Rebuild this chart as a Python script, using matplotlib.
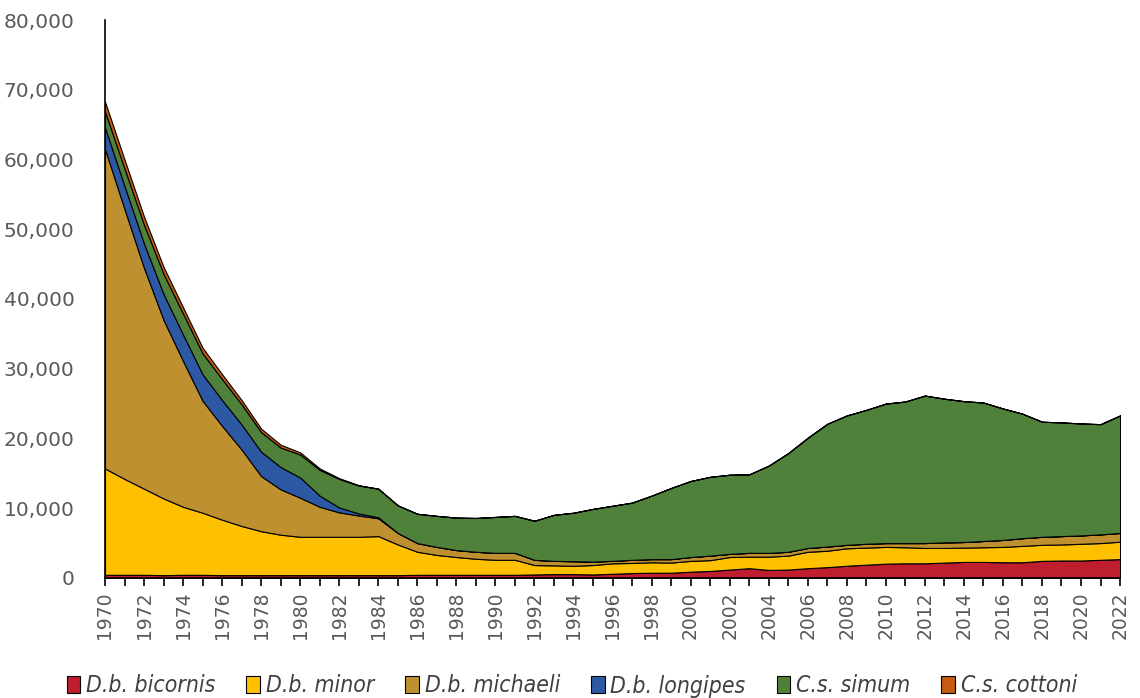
import numpy as np
import matplotlib
matplotlib.use("Agg")
import matplotlib.pyplot as plt
from matplotlib.ticker import FuncFormatter, MultipleLocator

years = list(range(1970, 2023))

bicornis = [450, 450, 450, 400, 450, 450, 400, 400, 400, 400,
            400, 400, 400, 400, 400, 400, 450, 450, 450, 450,
            450, 450, 500, 550, 550, 500, 600, 700, 750, 750,
            900, 1000, 1200, 1400, 1150, 1200, 1400, 1550, 1750, 1900,
            2050, 2100, 2100, 2200, 2300, 2300, 2250, 2250, 2450, 2500,
            2500, 2600, 2700]
minor = [15250, 13750, 12350, 11000, 9750, 8900, 7950, 7050, 6300, 5800,
         5500, 5500, 5500, 5500, 5600, 4400, 3300, 2850, 2550, 2300,
         2150, 2150, 1350, 1250, 1200, 1350, 1500, 1450, 1500, 1450,
         1550, 1550, 1800, 1650, 1900, 2000, 2350, 2350, 2500, 2450,
         2400, 2300, 2200, 2100, 2050, 2100, 2200, 2350, 2300, 2300,
         2400, 2400, 2500]
michaeli = [45800, 38700, 31650, 25600, 20900, 16050, 13450, 10950, 7900, 6500,
            5600, 4300, 3500, 3050, 2550, 1650, 1250, 1150, 1000, 1000,
            1000, 1000, 750, 650, 650, 500, 350, 450, 450, 500,
            550, 650, 450, 550, 550, 550, 550, 600, 500, 550,
            550, 600, 700, 800, 800, 900, 1000, 1100, 1150, 1200,
            1200, 1250, 1250]
longipes = [3100, 3300, 3500, 3700, 3800, 3800, 3700, 3600, 3500, 3200,
            2900, 1600, 700, 300, 150] + [0] * 38
simum = [2300, 2500, 2700, 2900, 3000, 3000, 3000, 2900, 2800, 2800,
         3300, 3700, 4100, 4000, 4100, 3950, 4200, 4450, 4650, 4850,
         5150, 5300, 5600, 6600, 6950, 7550, 7900, 8200, 9100, 10200,
         10900, 11300, 11350, 11250, 12500, 14150, 15800, 17600, 18550, 19200,
         20000, 20300, 21150, 20600, 20200, 19850, 18850, 17850, 16500, 16300,
         16050, 15800, 16850]
cottoni = [1400, 1300, 1150, 1000, 900, 800, 700, 600, 500, 400,
           300, 200, 100, 50] + [0] * 39

labels = ["D.b. bicornis", "D.b. minor", "D.b. michaeli", "D.b. longipes",
          "C.s. simum", "C.s. cottoni"]
colors = ["#BE1E2D", "#FFC000", "#BF9030", "#2C58A4", "#50813A", "#C55A11"]

fig = plt.figure(figsize=(11.4, 6.98), dpi=100)
ax = fig.add_axes([0.0921, 0.172, 0.8904, 0.7993])

polys = ax.stackplot(years, bicornis, minor, michaeli, longipes, simum, cottoni,
                     colors=colors, labels=labels, edgecolor="black", linewidth=0.8)

ax.set_xlim(1970, 2022)
ax.set_ylim(0, 80000)

ax.yaxis.set_major_locator(MultipleLocator(10000))
ax.yaxis.set_major_formatter(FuncFormatter(lambda v, p: f"{int(v):,}"))
ax.tick_params(axis="y", length=0, pad=22, labelsize=14.5, labelcolor="#595959")

ax.set_xticks(years[::2])
ax.set_xticks(years[1::2], minor=True)
ax.tick_params(axis="x", which="both", length=6, width=1.2, color="black",
               direction="out", labelsize=13.5, labelcolor="#595959",
               labelrotation=90, pad=4)

for s in ["top", "right"]:
    ax.spines[s].set_visible(False)
ax.spines["left"].set_color("black")
ax.spines["left"].set_linewidth(1.2)
ax.spines["bottom"].set_color("black")
ax.spines["bottom"].set_linewidth(1.2)

leg = fig.legend(loc="center", bbox_to_anchor=(0.5015, 1 - 686 / 698), ncol=6,
                 frameon=False, handlelength=0.6, handleheight=0.7,
                 handletextpad=0.25, columnspacing=1.35,
                 prop={"family": "DejaVu Sans", "stretch": "condensed",
                       "style": "italic", "size": 16.5})
for t in leg.get_texts():
    t.set_color("#404040")

fig.savefig("out.png", dpi=100)
